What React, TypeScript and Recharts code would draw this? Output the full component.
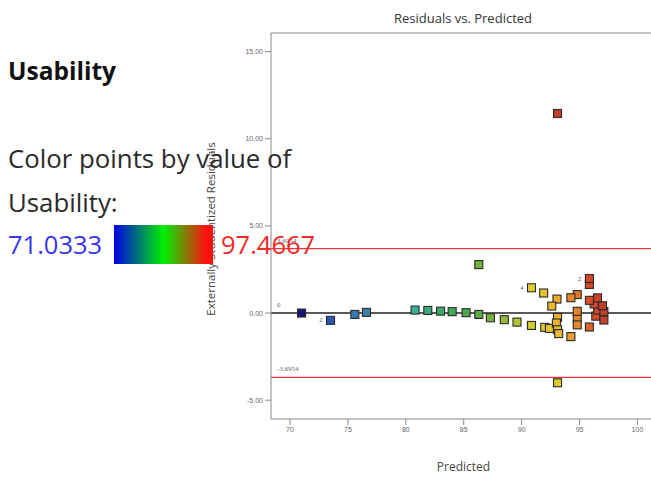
import React from 'react';
import { ScatterChart, Scatter, XAxis, YAxis, ReferenceLine } from 'recharts';

// Predicted usability and externally studentized residual for each run
const predicted = [
  71.0, 73.5, 75.6, 76.6, 80.8, 81.9, 83.0, 84.0, 85.2, 86.3, 87.3, 88.5, 89.6, 90.85,
  92.0, 92.4, 93.1, 93.0, 93.1, 93.2, 94.25, 94.8, 94.8, 95.85, 96.4, 97.1, 96.55, 97.1,
  96.98, 96.26, 96.55, 95.85, 95.85, 95.85, 94.8, 94.8, 94.25, 93.05, 92.6, 91.9, 90.85,
  86.3, 93.1, 93.1,
];
const residuals = [
  0.0, -0.42, -0.08, 0.04, 0.17, 0.15, 0.11, 0.08, 0.02, -0.08, -0.27, -0.38, -0.52, -0.71,
  -0.82, -0.88, -0.25, -0.57, -0.96, -1.18, -1.35, -0.3, -0.68, -0.8, -0.18, -0.4, 0.17, 0.08,
  0.42, 0.52, 0.87, 0.73, 1.64, 1.98, 1.06, 0.1, 0.88, 0.8, 0.4, 1.15, 1.45,
  2.78, -4.0, 11.45,
];

// Number of coincident runs at a location
const countTags = [
  { predicted: 73.5, residual: -0.42, n: '2' },
  { predicted: 90.85, residual: 1.45, n: '4' },
  { predicted: 95.85, residual: 1.98, n: '2' },
];

const xTicks = [70, 75, 80, 85, 90, 95, 100];
const yTicks = [-5, 0, 5, 10, 15];
const limit = 3.6954;
const usabilityMin = 71.0333;
const usabilityMax = 97.4667;

const X_DOMAIN: [number, number] = [68.36, 101.6];
const Y_DOMAIN: [number, number] = [-6.08, 16.07];

const points = predicted.map((p, i) => ({ predicted: p, residual: residuals[i] }));

// Colour ramp used for the point fills
const ramp: [number, string][] = [
  [0.0, '#161678'],
  [0.1, '#2f5fc0'],
  [0.2, '#3d80a8'],
  [0.36, '#3fb0a0'],
  [0.46, '#3aa862'],
  [0.56, '#50a84a'],
  [0.62, '#78b23a'],
  [0.69, '#b0c230'],
  [0.76, '#dcd030'],
  [0.81, '#e8c030'],
  [0.86, '#e8a030'],
  [0.91, '#e07a2a'],
  [0.95, '#d84a28'],
  [1.0, '#b83a2a'],
];

function hex(c: string) {
  return [1, 3, 5].map((k) => parseInt(c.slice(k, k + 2), 16));
}

function rampColor(v: number) {
  const t = Math.max(0, Math.min(1, (v - usabilityMin) / (usabilityMax - usabilityMin)));
  for (let i = 1; i < ramp.length; i++) {
    if (t <= ramp[i][0]) {
      const [t0, c0] = ramp[i - 1];
      const [t1, c1] = ramp[i];
      const f = (t - t0) / (t1 - t0);
      const a = hex(c0);
      const b = hex(c1);
      const m = a.map((x, k) => Math.round(x + (b[k] - x) * f));
      return `rgb(${m[0]},${m[1]},${m[2]})`;
    }
  }
  return ramp[ramp.length - 1][1];
}

const SquarePoint = (props: any) => {
  const { cx, cy, payload } = props;
  if (cx == null || cy == null) return null;
  const fill = rampColor(payload.predicted + 0.35 * payload.residual);
  const s = 8;
  return (
    <rect x={cx - s / 2} y={cy - s / 2} width={s} height={s} fill={fill} stroke="#2a2a2a" strokeWidth={1.1} />
  );
};

const CountTag = (props: any) => {
  const { cx, cy, payload } = props;
  if (cx == null || cy == null) return null;
  return (
    <text x={cx - 8} y={cy + 2} textAnchor="end" fontSize={6} fill="#667" fontFamily="Liberation Sans, sans-serif">
      {payload.n}
    </text>
  );
};

const tickStyle = { fontSize: 7, fill: '#666', fontFamily: 'Liberation Sans, sans-serif' };
const FONT = '"Open Sans", "Noto Sans", sans-serif';

export default function App() {
  return (
    <div style={{ position: 'absolute', left: 0, top: 0, width: 651, height: 477, overflow: 'hidden', background: '#fff' }}>
      <div style={{ position: 'absolute', left: 0, top: 0 }}>
        <ScatterChart width={660} height={477} margin={{ top: 33, right: 4, bottom: 28, left: 231 }}>
          <XAxis
            type="number"
            dataKey="predicted"
            domain={X_DOMAIN}
            ticks={xTicks}
            allowDataOverflow
            height={30}
            stroke="#888"
            tickLine={{ stroke: '#888' }}
            tickSize={6}
            tick={tickStyle}
            label={{
              content: (p: any) => {
                const vb = p.viewBox || { x: 271, y: 419, width: 385, height: 30 };
                return (
                  <text x={vb.x + vb.width / 2} y={vb.y + 52} textAnchor="middle" fontSize={12} fill="#444" fontFamily={FONT}>
                    Predicted
                  </text>
                );
              },
            }}
          />
          <YAxis
            type="number"
            dataKey="residual"
            domain={Y_DOMAIN}
            ticks={yTicks}
            allowDataOverflow
            width={40}
            stroke="#888"
            tickLine={{ stroke: '#888' }}
            tickSize={6}
            tick={tickStyle}
            tickFormatter={(v: number) => v.toFixed(2)}
            label={{
              content: (p: any) => {
                const vb = p.viewBox || { x: 231, y: 33, width: 40, height: 386 };
                const cx = vb.x - 21;
                const cy = vb.y + vb.height / 2 + 3;
                return (
                  <text x={cx} y={cy} transform={`rotate(-90, ${cx}, ${cy})`} textAnchor="middle" dominantBaseline="central" fontSize={11.5} fill="#444" fontFamily={FONT}>
                    Externally Studentized Residuals
                  </text>
                );
              },
            }}
          />
          <ReferenceLine y={Y_DOMAIN[1]} stroke="#888" ifOverflow="extendDomain" />
          <ReferenceLine
            y={limit}
            stroke="#e8383c"
            strokeWidth={1.2}
            label={{ value: limit.toFixed(4), position: 'insideBottomLeft', offset: 6, fontSize: 7, fill: '#666' }}
          />
          <ReferenceLine
            y={-limit}
            stroke="#e8383c"
            strokeWidth={1.2}
            label={{ value: (-limit).toFixed(4), position: 'insideBottomLeft', offset: 6, fontSize: 7, fill: '#666' }}
          />
          <ReferenceLine
            y={0}
            stroke="#222"
            strokeWidth={1.6}
            label={{ value: '0', position: 'insideBottomLeft', offset: 6, fontSize: 7, fill: '#666' }}
          />
          <Scatter data={points} shape={SquarePoint} isAnimationActive={false} />
          <Scatter data={countTags} dataKey="residual" shape={CountTag} isAnimationActive={false} />
        </ScatterChart>
      </div>
      <svg width={651} height={477} style={{ position: 'absolute', left: 0, top: 0, pointerEvents: 'none' }}>
        <defs>
          <linearGradient id="usabilityBar" x1="0" y1="0" x2="1" y2="0">
            <stop offset="0" stopColor="#0000e6" />
            <stop offset="0.5" stopColor="#00f000" />
            <stop offset="0.93" stopColor="#ff1010" />
            <stop offset="1" stopColor="#ff1010" />
          </linearGradient>
        </defs>
        <text x={463} y={23} textAnchor="middle" fontSize={13} fill="#333" fontFamily={FONT}>
          Residuals vs. Predicted
        </text>
        <text x={8} y={80} fontSize={24.5} fontWeight={700} fill="#111" fontFamily={FONT}>
          Usability
        </text>
        <text x={8} y={168} fontSize={25.8} fill="#2a2a2a" fontFamily={FONT}>
          Color points by value of
        </text>
        <text x={8} y={212} fontSize={25.8} fill="#2a2a2a" fontFamily={FONT}>
          Usability:
        </text>
        <text x={8} y={254} fontSize={25.5} fill="#3636ee" fontFamily={FONT}>
          {usabilityMin.toFixed(4)}
        </text>
        <rect x={114} y={225} width={99} height={39} fill="url(#usabilityBar)" />
        <text x={221} y={254} fontSize={25.5} fill="#f02828" fontFamily={FONT}>
          {usabilityMax.toFixed(4)}
        </text>
      </svg>
    </div>
  );
}
